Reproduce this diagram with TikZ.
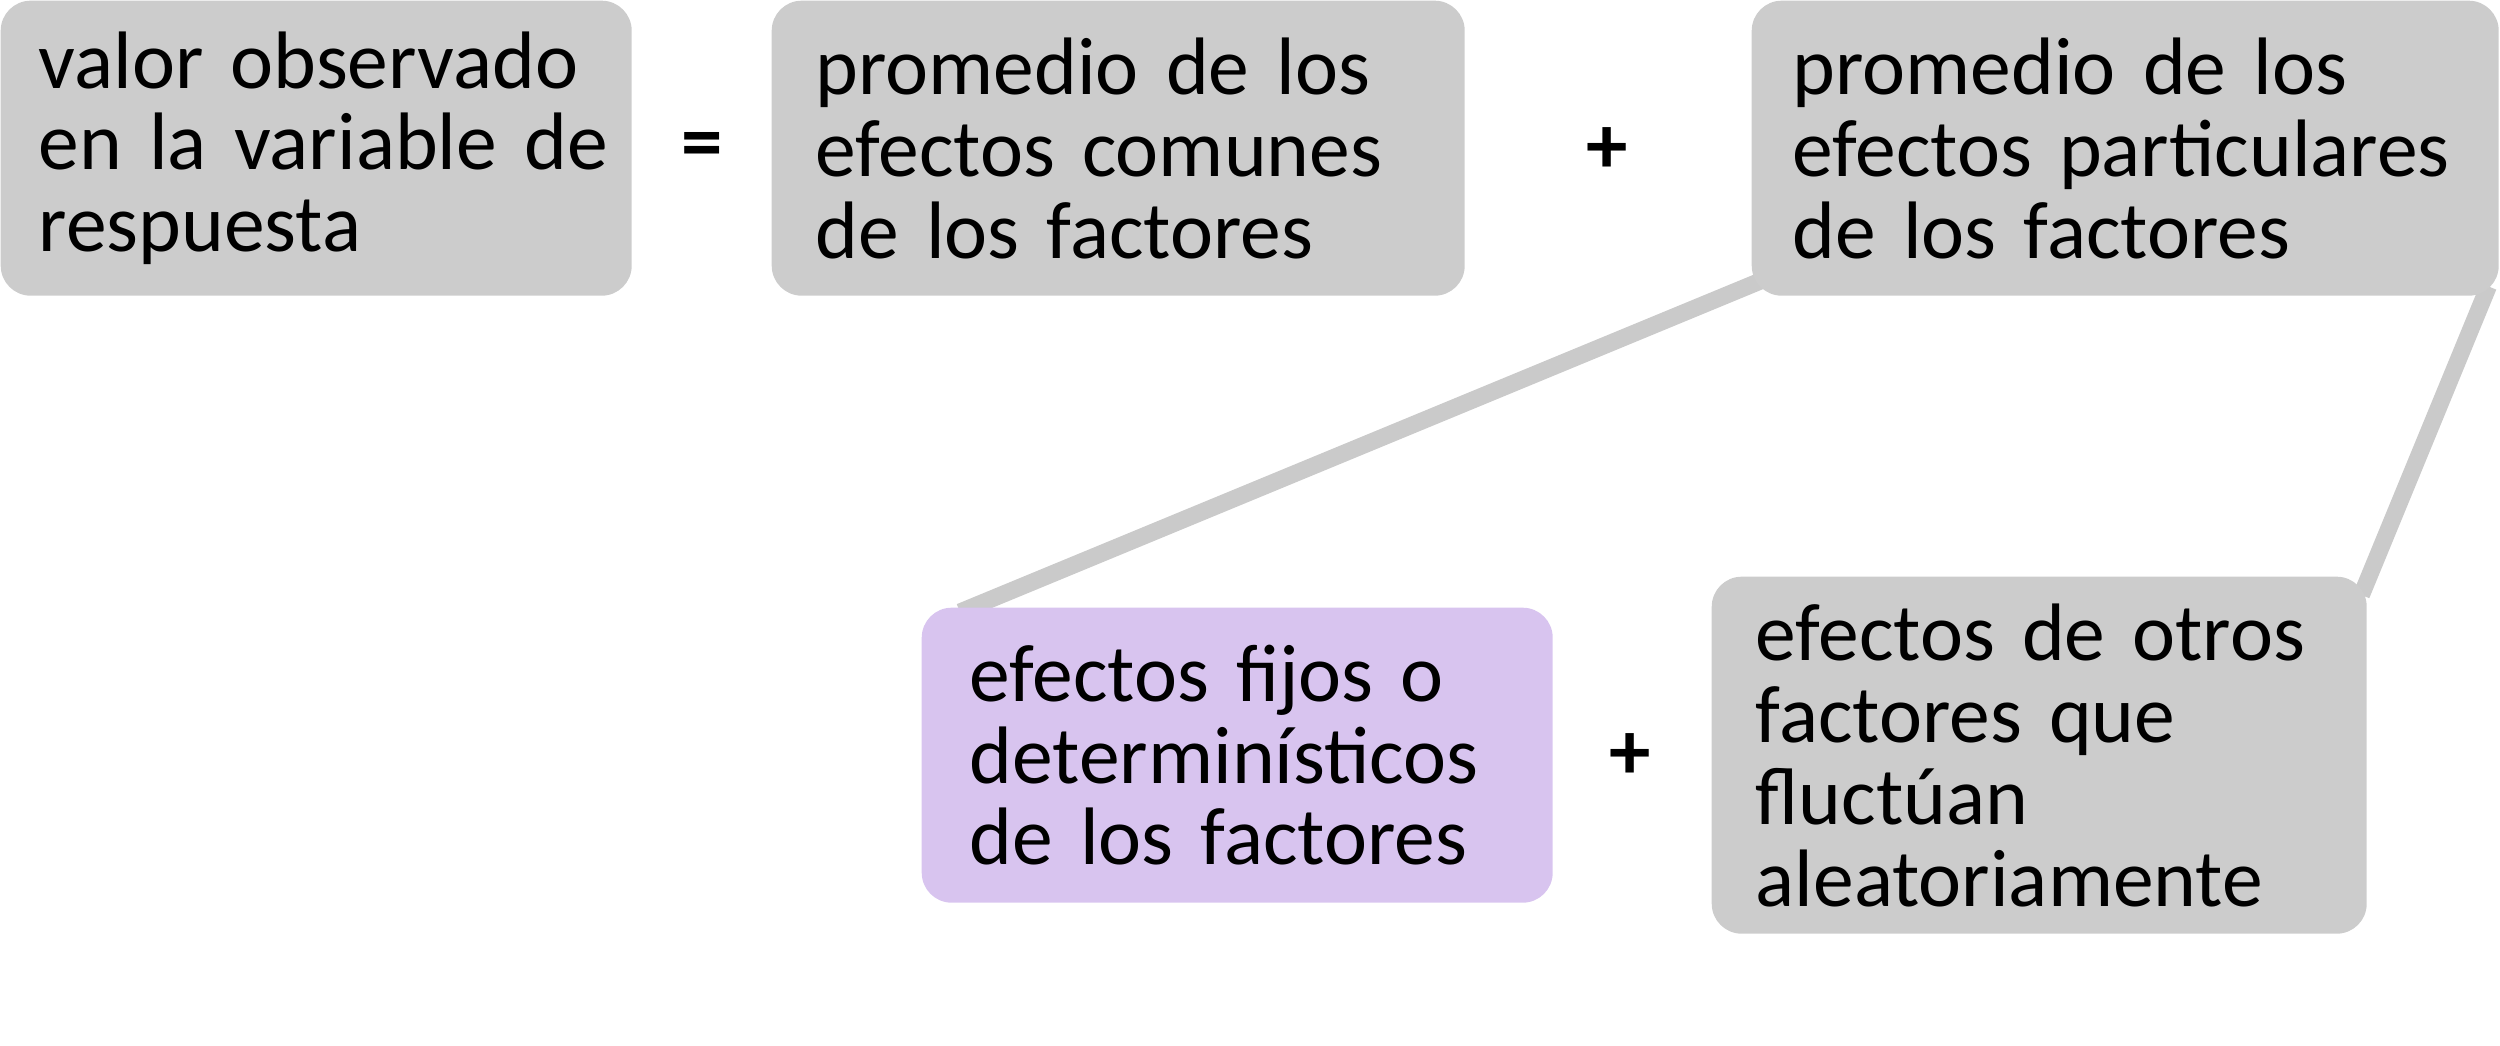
\documentclass[tikz,border=0pt]{standalone}
\usepackage{fontspec}
\setmainfont{Carlito}
\usetikzlibrary{backgrounds}
\definecolor{boxgray}{HTML}{CCCCCC}
\definecolor{boxlav}{HTML}{D8C4EF}
\definecolor{linegray}{HTML}{CACACA}
\tikzset{
  box/.style={rounded corners=0.3cm, fill=boxgray, draw=none, align=left,
    inner ysep=0pt, anchor=north west,
    font=\fontsize{23.2}{23.3}\selectfont},
  sym/.style={font=\fontsize{23.6}{23.3}\selectfont\bfseries, inner sep=0pt},
  conn/.style={draw=linegray, line width=0.17cm},
}
\begin{document}
\begin{tikzpicture}
\useasboundingbox (0,0) rectangle (25,-10.46);
\node[box, inner xsep=0.38cm, text width=5.55cm, minimum width=6.31cm, minimum height=2.95cm] (b1) at (0,0)
  {\mbox{valor observado}\\\mbox{en la variable de}\\\mbox{respuesta}};
\node[box, inner xsep=0.44cm, text width=6.05cm, minimum width=6.93cm, minimum height=2.95cm] (b2) at (7.71,0)
  {\mbox{promedio de los}\\\mbox{efectos comunes}\\\mbox{de los factores}};
\node[box, inner xsep=0.41cm, text width=6.65cm, minimum width=7.47cm, minimum height=2.95cm] (b3) at (17.51,0)
  {\mbox{promedio de los}\\\mbox{efectos particulares}\\\mbox{de los factores}};
\node[box, fill=boxlav, inner xsep=0.48cm, text width=5.35cm, minimum width=6.31cm, minimum height=2.95cm] (b4) at (9.21,-6.07)
  {\mbox{efectos fijos o}\\\mbox{determinísticos}\\\mbox{de los factores}};
\node[box, inner xsep=0.44cm, text width=5.67cm, minimum width=6.55cm, minimum height=3.57cm] (b5) at (17.11,-5.76)
  {\mbox{efectos de otros}\\\mbox{factores que}\\\mbox{fluctúan}\\\mbox{aleatoriamente}};
\node[sym] (eq) at (7.02,-1.51) {=};
\node[sym] (p1) at (16.07,-1.51) {+};
\node[sym] (p2) at (16.30,-7.57) {+};
\begin{pgfonlayer}{background}
\draw[conn] ([shift={(0.11,0.16)}]b3.south west) -- ([shift={(0.39,-0.05)}]b4.north west);
\draw[conn] ([shift={(-0.11,0.10)}]b3.south east) -- ([shift={(-0.06,-0.19)}]b5.north east);
\end{pgfonlayer}
\end{tikzpicture}
\end{document}
